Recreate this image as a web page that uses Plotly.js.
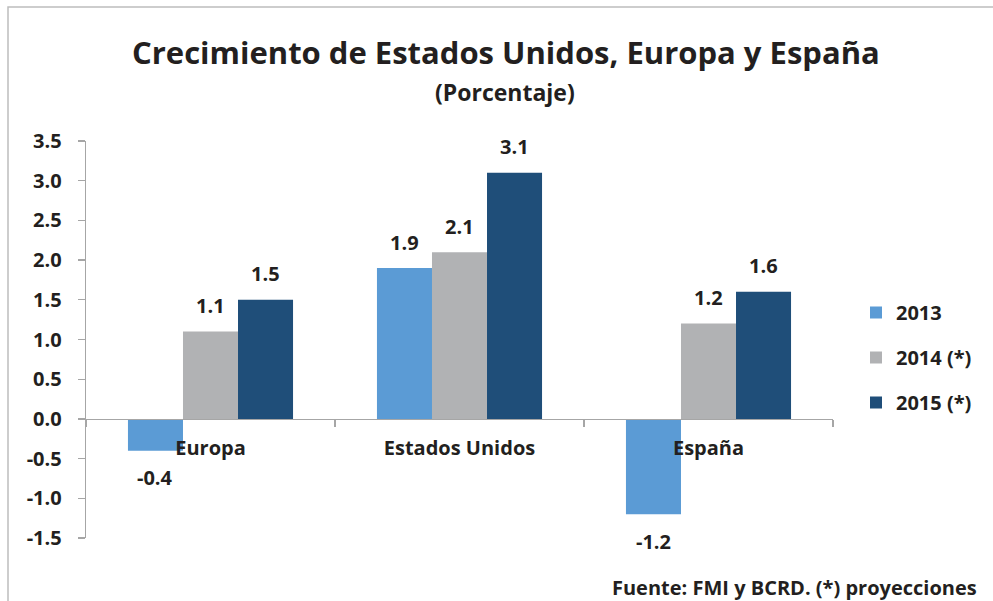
<!DOCTYPE html>
<html>
<head>
<meta charset="utf-8">
<script src="https://cdn.plot.ly/plotly-3.0.1.min.js"></script>
<style>html,body{margin:0;padding:0;background:#fff;}#chart{width:993px;height:601px;}</style>
</head>
<body>
<div id="chart"></div>
<script>
const categories = ["Europa", "Estados Unidos", "España"];
const seriesNames = ["2013", "2014 (*)", "2015 (*)"];
const values2013 = [-0.4, 1.9, -1.2];
const values2014 = [1.1, 2.1, 1.2];
const values2015 = [1.5, 3.1, 1.6];
const yTickValues = [-1.5, -1.0, -0.5, 0.0, 0.5, 1.0, 1.5, 2.0, 2.5, 3.0, 3.5];
const titleText = "Crecimiento de Estados Unidos, Europa y España";
const subtitleText = "(Porcentaje)";
const sourceText = "Fuente: FMI y BCRD. (*) proyecciones";

const colors = ["#5B9BD5", "#B1B2B4", "#1F4E79"];
const FONT = "Open Sans, Lato, sans-serif";
const TXT = "#231F20";
const allValues = [values2013, values2014, values2015];

const L = 86, R = 833, T = 141, B = 538;
const W = 993, H = 601;
const px = v => (v - L) / (R - L);
const py = v => (B - v) / (B - T);
const BARGAP = 0.337;
const barPx = (R - L) / categories.length * (1 - BARGAP) / allValues.length;

const traces = allValues.map((vals, i) => ({
  type: "bar",
  name: seriesNames[i],
  x: categories,
  y: vals,
  marker: {color: colors[i]},
  legendgroup: "g" + i,
  hoverinfo: "x+y"
}));

const labelAnnotations = [];
allValues.forEach((vals, i) => {
  vals.forEach((v, j) => {
    labelAnnotations.push({
      text: v.toFixed(1), xref: "x", yref: "y", x: categories[j], y: v,
      xshift: (i - (allValues.length - 1) / 2) * barPx,
      yshift: v >= 0 ? 26 : -27,
      xanchor: "center", yanchor: "middle", showarrow: false,
      font: {family: FONT, size: 20, color: TXT, weight: 700}
    });
  });
});

const layout = {
  width: W, height: H,
  margin: {l: L, r: W - R, t: T, b: H - B, pad: 0},
  paper_bgcolor: "#fff",
  plot_bgcolor: "rgba(0,0,0,0)",
  font: {family: FONT, color: TXT, size: 20, weight: 700},
  barmode: "group",
  bargap: BARGAP,
  bargroupgap: 0,
  showlegend: true,
  legend: {
    x: px(856), y: py(293), xanchor: "left", yanchor: "top",
    font: {family: FONT, size: 20, color: TXT, weight: 700},
    traceorder: "grouped", tracegroupgap: 16,
    bgcolor: "rgba(0,0,0,0)"
  },
  xaxis: {
    type: "category",
    anchor: "free",
    position: (0 - (-1.5)) / (3.5 - (-1.5)),
    showline: true, linecolor: "#A6A6A6", linewidth: 1.3,
    ticks: "outside", ticklen: 7, tickcolor: "#A6A6A6", tickwidth: 1.3,
    tickson: "boundaries",
    ticklabelstandoff: 11,
    showgrid: false, zeroline: false,
    tickfont: {family: FONT, size: 20, color: TXT, weight: 700},
    fixedrange: true
  },
  yaxis: {
    range: [-1.5, 3.5],
    tickvals: yTickValues,
    ticktext: yTickValues.map(v => v.toFixed(1)),
    showline: true, linecolor: "#A6A6A6", linewidth: 1.3,
    ticks: "outside", ticklen: 7, tickcolor: "#A6A6A6", tickwidth: 1.3,
    showgrid: false, zeroline: false,
    tickfont: {family: FONT, size: 20, color: TXT, weight: 700},
    ticklabelstandoff: 12,
    fixedrange: true
  },
  annotations: [
    {text: titleText, xref: "paper", yref: "paper", x: px(506), y: py(52),
     xanchor: "center", yanchor: "middle", showarrow: false,
     font: {family: FONT, size: 31, color: TXT, weight: 700}},
    {text: subtitleText, xref: "paper", yref: "paper", x: px(505), y: py(92),
     xanchor: "center", yanchor: "middle", showarrow: false,
     font: {family: FONT, size: 23, color: TXT, weight: 700}},
    {text: sourceText, xref: "paper", yref: "paper", x: px(979), y: py(587),
     xanchor: "right", yanchor: "middle", showarrow: false,
     font: {family: FONT, size: 20, color: TXT, weight: 700}}
  ].concat(labelAnnotations),
  shapes: [
    {type: "rect", xref: "paper", yref: "paper",
     x0: px(8), x1: px(1005), y0: py(7), y1: py(615),
     line: {color: "#BDBDBD", width: 1.5}, fillcolor: "rgba(0,0,0,0)", layer: "below"}
  ]
};

Plotly.newPlot("chart", traces, layout, {displayModeBar: false, staticPlot: true});
</script>
</body>
</html>
